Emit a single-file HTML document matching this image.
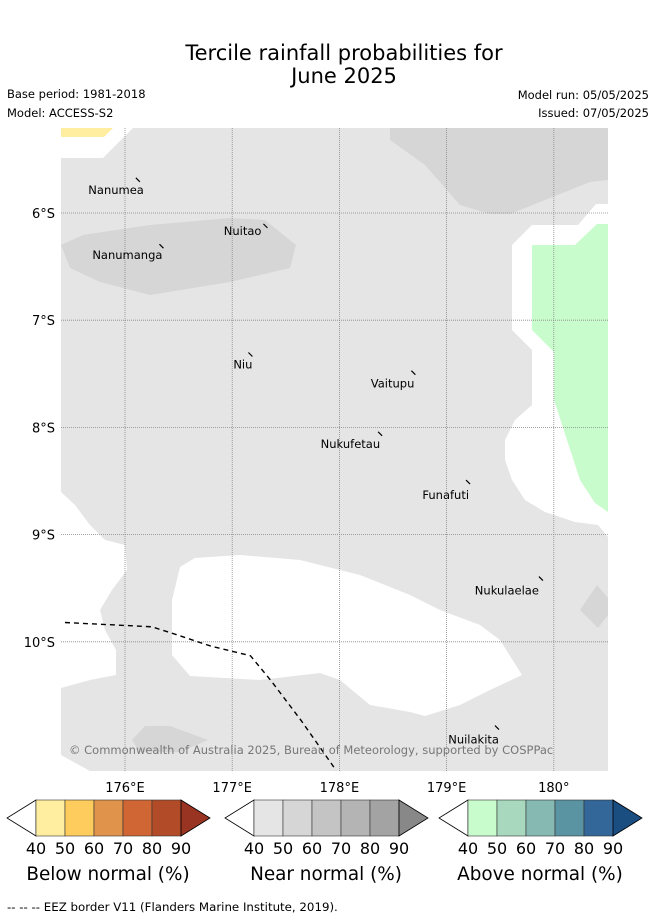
<!DOCTYPE html>
<html><head><meta charset="utf-8"><style>
body{margin:0;background:#fff;width:655px;height:919px;overflow:hidden}
svg{display:block;font-family:"DejaVu Sans","Liberation Sans",sans-serif}
</style></head><body>
<svg id="fig" width="655" height="919" viewBox="0 0 655 919">
<text x="344" y="60" font-size="21" text-anchor="middle">Tercile rainfall probabilities for</text>
<text x="344" y="83" font-size="21" text-anchor="middle">June 2025</text>
<text x="7" y="98" font-size="11.5">Base period: 1981-2018</text>
<text x="7" y="117" font-size="11.5">Model: ACCESS-S2</text>
<text x="649" y="99" font-size="11.5" text-anchor="end">Model run: 05/05/2025</text>
<text x="649" y="117" font-size="11.5" text-anchor="end">Issued: 07/05/2025</text>
<defs><clipPath id="mc"><rect x="61" y="128" width="547" height="643"/></clipPath></defs>
<g clip-path="url(#mc)">
<rect x="61" y="128" width="547" height="643" fill="#e5e5e5"/>
<polygon points="61,128 113,128 104,137 61,137" fill="#ffeda0"/>
<polygon points="61,137 104,137 113,128 133,128 103,158 61,158" fill="#fff"/>
<polygon points="390,128 608,128 608,180 590,182 545,200 510,214 490,214 460,205 425,165 390,140" fill="#d6d6d6"/>
<polygon points="61,245 83,235 150,225 230,218 265,220 296,245 290,268 230,282 150,295 100,282 70,268" fill="#d6d6d6"/>
<polygon points="512,245 532,225 578,225 596,204 608,204 608,537 598,525 575,522 545,512 525,500 512,480 505,460 505,440 515,420 532,405 532,350 512,330" fill="#fff"/>
<polygon points="532,245 575,245 597,224 608,224 608,512 595,503 580,480 567,440 554,400 554,352 532,330" fill="#c9fccc"/>
<polygon points="61,492 75,505 90,525 105,540 125,545 127,570 112,590 100,610 105,630 116,650 116,675 90,680 61,688" fill="#fff"/>
<polygon points="172,600 180,567 195,558 240,555 300,560 360,575 410,595 440,610 480,625 500,640 522,675 490,690 460,705 425,716 410,712 370,705 340,680 320,673 260,680 190,676 172,655" fill="#fff"/>
<polygon points="61,755 90,771 61,771" fill="#fff"/>
<polygon points="580,610 597,585 608,598 608,615 598,628" fill="#d6d6d6"/>
<polygon points="132,740 145,726 170,726 208,740 180,752 140,752" fill="#d6d6d6"/>
<g id="grid"></g>
<g id="eez"></g>
<g id="islands"></g>
<text x="69" y="754" font-size="11.5" fill="#777">© Commonwealth of Australia 2025, Bureau of Meteorology, supported by COSPPac</text>
</g>
<g id="axes"></g>
<g id="cbars"></g>
<text x="7" y="911" font-size="11.8">--  --  -- EEZ border V11 (Flanders Marine Institute, 2019).</text>
</svg>
<script>
const lonTicks=[176,177,178,179,180];
const lonTickLabels=["176°E","177°E","178°E","179°E","180°"];
const latTicks=[6,7,8,9,10];
const latTickLabels=["6°S","7°S","8°S","9°S","10°S"];
const islandNames=["Nanumea","Nuitao","Nanumanga","Niu","Vaitupu","Nukufetau","Funafuti","Nukulaelae","Nuilakita"];
const islandLon=[176.12,177.31,176.34,177.17,178.69,178.38,179.2,179.88,179.47];
const islandLat=[5.69,6.12,6.31,7.32,7.49,8.06,8.51,9.41,10.8];
const islandLabelDx=[6,-4,1,2,1,0,1,-2,2];
const islandLabelDy=[14,9,13,14,15,14,17,16,16];
const eezLon=[175.44,176.25,176.47,176.8,177.17,177.36,177.64,177.97];
const eezLat=[9.82,9.86,9.93,10.04,10.13,10.36,10.73,11.2];
const cbLabels=["40","50","60","70","80","90"];
const cbTitles=["Below normal (%)","Near normal (%)","Above normal (%)"];
const cbColors=[["#ffeda0","#fecc5c","#e0934a","#d06633","#b24b27","#993322"],["#e5e5e5","#d6d6d6","#c4c4c4","#b4b4b4","#a3a3a3","#888888"],["#c9fccc","#a8d9bf","#85b9b2","#5a93a1","#336699","#1a4d80"]];
const NS="http://www.w3.org/2000/svg";
const xS=lon=>125+(lon-176)*107.2;
const yS=lat=>213+(lat-6)*107.2;
function mk(tag,attrs,parent,txt){const e=document.createElementNS(NS,tag);for(const k in attrs)e.setAttribute(k,attrs[k]);if(txt!==undefined)e.textContent=txt;parent.appendChild(e);return e;}
const grid=document.getElementById('grid'),axes=document.getElementById('axes');
lonTicks.forEach((v,i)=>{
 const l=mk('line',{x1:xS(v),x2:xS(v),y1:128,y2:771,stroke:'#888','stroke-width':0.8,'stroke-dasharray':'1,1'},grid);
 
 
 const t=mk('text',{x:xS(v),y:792,'font-size':13,'text-anchor':'middle'},axes,lonTickLabels[i]);
 
 
});
latTicks.forEach((v,i)=>{
 const l=mk('line',{x1:61,x2:608,y1:yS(v),y2:yS(v),stroke:'#888','stroke-width':0.8,'stroke-dasharray':'1,1'},grid);
 
 
 const t=mk('text',{x:55,y:yS(v)+5,'font-size':13,'text-anchor':'end'},axes,latTickLabels[i]);
 
 
});
const eez=document.getElementById('eez');
const pts=eezLon.map((v,i)=>xS(v)+','+yS(eezLat[i])).join(' ');
const pl=mk('polyline',{points:pts,fill:'none',stroke:'#000','stroke-width':1.4,'stroke-dasharray':'5,4'},eez);


const isl=document.getElementById('islands');
islandNames.forEach((n,i)=>{
 const x=xS(islandLon[i]),y=yS(islandLat[i]);
 const m=mk('line',{x1:x-2,y1:y-2,x2:x+2,y2:y+2,stroke:'#000','stroke-width':1.2},isl);
 
 
 const t=mk('text',{x:x+islandLabelDx[i],y:y+islandLabelDy[i],'font-size':11.5,'text-anchor':'end'},isl,n);
 
 
});
const cb=document.getElementById('cbars');
const cbX=[7,225,439];
cbX.forEach((x0,b)=>{
 const g=mk('g',{},cb);
 
 
 const bx=x0+29,top=800,h=36,cw=29;
 mk('polygon',{points:`${bx},${top} ${x0},${top+h/2} ${bx},${top+h}`,fill:'#fff',stroke:'#000','stroke-width':0.8},g);
 for(let k=0;k<5;k++) mk('rect',{x:bx+k*cw,y:top,width:cw,height:h,fill:cbColors[b][k],stroke:'#333','stroke-width':0.6},g);
 const ex=bx+5*cw;
 mk('polygon',{points:`${ex},${top} ${ex+29},${top+h/2} ${ex},${top+h}`,fill:cbColors[b][5],stroke:'#000','stroke-width':0.8},g);
 cbLabels.forEach((lb,k)=>{const t=mk('text',{x:bx+k*cw,y:854,'font-size':16,'text-anchor':'middle'},g,lb);
  
  });
 const tt=mk('text',{x:bx+72,y:880,'font-size':18.4,'text-anchor':'middle'},g,cbTitles[b]);
 
 
});
</script>
</body></html>
